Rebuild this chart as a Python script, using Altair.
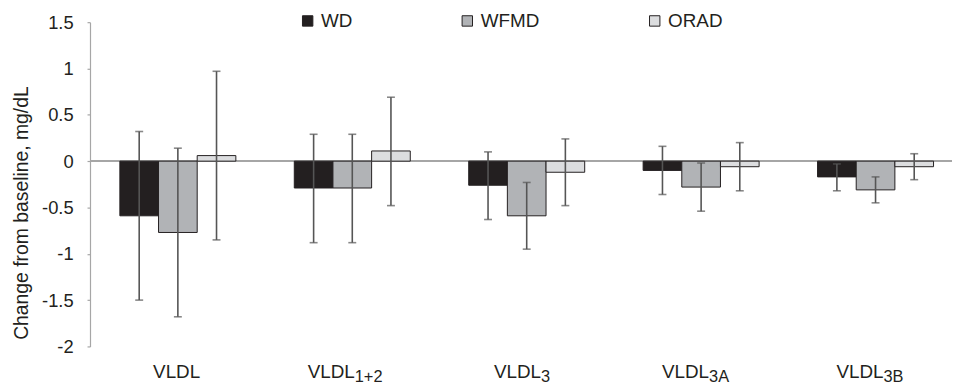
import altair as alt
import pandas as pd

# ---------------- data ----------------
CATEGORIES = ["VLDL", "VLDL1+2", "VLDL3", "VLDL3A", "VLDL3B"]
LABEL_MAIN = ["VLDL", "VLDL", "VLDL", "VLDL", "VLDL"]
LABEL_SUB = ["", "1+2", "3", "3A", "3B"]
SERIES = ["WD", "WFMD", "ORAD"]

WD_MEAN = [-0.59, -0.29, -0.26, -0.10, -0.17]
WD_LOW = [-1.50, -0.88, -0.63, -0.36, -0.32]
WD_HIGH = [0.32, 0.29, 0.10, 0.16, -0.03]

WFMD_MEAN = [-0.77, -0.29, -0.59, -0.28, -0.31]
WFMD_LOW = [-1.68, -0.88, -0.95, -0.54, -0.45]
WFMD_HIGH = [0.14, 0.29, -0.23, -0.02, -0.17]

ORAD_MEAN = [0.06, 0.11, -0.12, -0.06, -0.06]
ORAD_LOW = [-0.85, -0.48, -0.48, -0.32, -0.20]
ORAD_HIGH = [0.97, 0.69, 0.24, 0.20, 0.08]

Y_TICKS = [1.5, 1, 0.5, 0, -0.5, -1, -1.5, -2]

# ---------------- styles ----------------
FONT = "Liberation Sans"
INK = "#231f20"
COLORS = ["#231f20", "#b1b3b6", "#dcdddf"]
AXIS_GREY = "#a6a6a6"
ERR_GREY = "#555555"
LABEL_DX = [-25, -45, -33, -39.5, -39.5]  # left edge of main label, relative to band centre
MAIN_W = 47.5

rows = []
for s, means, lows, highs in [
    ("WD", WD_MEAN, WD_LOW, WD_HIGH),
    ("WFMD", WFMD_MEAN, WFMD_LOW, WFMD_HIGH),
    ("ORAD", ORAD_MEAN, ORAD_LOW, ORAD_HIGH),
]:
    for c, m, lo, hi in zip(CATEGORIES, means, lows, highs):
        rows.append({"cat": c, "series": s, "mean": m, "lo": lo, "hi": hi})
df = pd.DataFrame(rows)
lab_df = pd.DataFrame({"cat": CATEGORIES, "main": LABEL_MAIN, "sub": LABEL_SUB})

W, H = 869.3, 327

x_scale = alt.Scale(domain=CATEGORIES, paddingInner=0.335, paddingOuter=0.1385, align=0.618)
off_scale = alt.Scale(domain=SERIES, paddingInner=0, paddingOuter=0)

Y_TITLE = "Change from baseline, mg/dL"
y_axis = alt.Axis(
    values=Y_TICKS,
    labelExpr="'' + datum.value",
    grid=False,
    domainColor=AXIS_GREY,
    domainWidth=1.2,
    tickColor=AXIS_GREY,
    tickWidth=1.2,
    tickSize=3,
    labelPadding=14,
    labelFont=FONT,
    labelFontSize=18.5,
    labelColor=INK,
    title=Y_TITLE,
    titleFont=FONT,
    titleFontSize=19.5,
    titleFontWeight="normal",
    titleColor=INK,
    titleAngle=270,
    titleAlign="center",
    titleBaseline="middle",
    titleX=-68.7,
    titleY=192,
)
y_scale = alt.Scale(domain=[-2, 1.5], nice=False, zero=False)

base = alt.Chart(df)
X = alt.X("cat:N", scale=x_scale, axis=None, sort=CATEGORIES)
XO = alt.XOffset("series:N", scale=off_scale, sort=SERIES)

zero = alt.Chart(df).mark_rule(color=AXIS_GREY, strokeWidth=1.5).encode(
    y=alt.datum(0, scale=y_scale, axis=y_axis, title=Y_TITLE)
)

bars = base.mark_bar(stroke=INK, strokeWidth=1).encode(
    x=X,
    xOffset=XO,
    y=alt.Y("mean:Q", scale=y_scale, axis=y_axis, title=Y_TITLE),
    color=alt.Color(
        "series:N",
        sort=SERIES,
        scale=alt.Scale(domain=SERIES, range=COLORS),
        legend=alt.Legend(
            title=None,
            orient="none",
            legendX=210,
            legendY=-11,
            direction="horizontal",
            symbolType="square",
            symbolSize=110,
            symbolStrokeColor=INK,
            symbolStrokeWidth=1,
            symbolOpacity=1,
            labelFont=FONT,
            labelFontSize=19,
            labelColor=INK,
            labelOffset=4,
            columnPadding=106,
            padding=0,
        ),
    ),
)

err = base.mark_rule(color=ERR_GREY, strokeWidth=1.6).encode(
    x=X,
    xOffset=XO,
    y=alt.Y("lo:Q", scale=y_scale, axis=y_axis, title=Y_TITLE),
    y2="hi:Q",
)
cap_lo = base.mark_tick(color=ERR_GREY, thickness=1.6, size=8).encode(
    x=X, xOffset=XO, y=alt.Y("lo:Q", scale=y_scale, axis=y_axis, title=Y_TITLE)
)
cap_hi = base.mark_tick(color=ERR_GREY, thickness=1.6, size=8).encode(
    x=X, xOffset=XO, y=alt.Y("hi:Q", scale=y_scale, axis=y_axis, title=Y_TITLE)
)

text_layers = []
for c, dx in zip(CATEGORIES, LABEL_DX):
    tb = alt.Chart(lab_df).transform_filter(alt.datum.cat == c)
    text_layers.append(
        tb.mark_text(align="left", baseline="alphabetic", dx=dx, font=FONT, fontSize=19, color=INK).encode(
            x=X, y=alt.value(358.6), text="main:N"
        )
    )
    text_layers.append(
        tb.mark_text(align="left", baseline="alphabetic", dx=dx + MAIN_W, dy=4, font=FONT, fontSize=16.5, color=INK).encode(
            x=X, y=alt.value(358.6), text="sub:N"
        )
    )

chart = (
    alt.layer(zero, bars, err, cap_lo, cap_hi, *text_layers)
    .properties(
        width=W,
        height=H,
        autosize=alt.AutoSizeParams(type="none"),
        padding={"left": 82.7, "top": 12.7, "right": 0, "bottom": 40},
        background="white",
    )
    .configure_view(stroke=None)
)

chart.save("out.html", embed_options={"renderer": "svg", "actions": False})
